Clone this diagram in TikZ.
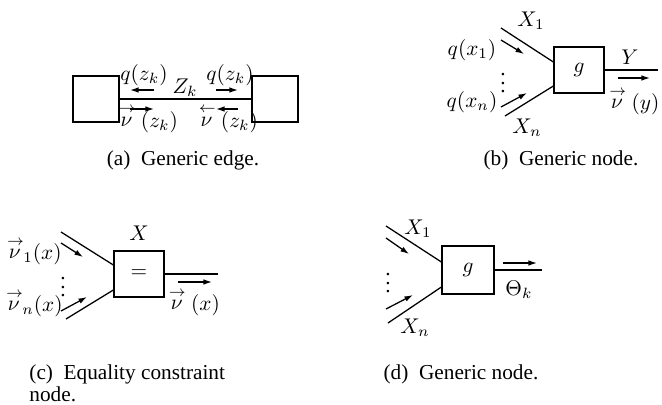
\documentclass[tikz,border=0pt]{standalone}
\usepackage[no-math]{fontspec}
\setmainfont{Liberation Serif}
\usetikzlibrary{arrows.meta,calc}
\newcommand{\arrnu}{\mathop{\nu}\limits^{\rightarrow}}
\newcommand{\larrnu}{\mathop{\nu}\limits^{\leftarrow}}
\newcommand{\rnu}{\mathrel{\arrnu}}
\newcommand{\lnu}{\mathrel{\larrnu}}
\begin{document}
\begin{tikzpicture}[x=0.47pt,y=-0.47pt,
  ln/.style={line width=0.6pt},
  msg/.style={line width=0.6pt,-{Latex[length=4pt,width=2.6pt]}},
  blk/.style={draw,line width=0.6pt,inner sep=0pt},
  lbl/.style={inner sep=0pt},
  captxt/.style={inner sep=0pt,font=\fontsize{10}{12}\selectfont}]
\useasboundingbox (0,0) rectangle (662,405);

% ---------- (a) generic edge
\node[blk,minimum width=21.6pt,minimum height=21.6pt] (la) at (96,99) {};
\node[blk,minimum width=21.6pt,minimum height=21.6pt] (ra) at (275,99) {};
\draw[ln] (la.east) -- (ra.west);
\node[lbl] (qa1) at (144,75) {$q(z_k)$};
\node[lbl] (za) at (185,88) {$Z_k$};
\node[lbl] (qa2) at (230,75) {$q(z_k)$};
\node[lbl,anchor=base] (na1) at (148,127) {$\rnu(z_k)$};
\node[lbl,anchor=base] (na2) at (228,127) {$\lnu(z_k)$};
\draw[msg] (154,90) -- (130,90);
\draw[msg] (216,90) -- (238,90);
\draw[msg] (130,109) -- (154,109);
\draw[msg] (238,109) -- (216,109);
\node[captxt,anchor=base] (capa) at (183,165) {(a)\enspace Generic edge.};

% ---------- (b) generic node
\node[blk,minimum width=23.5pt,minimum height=21.6pt] (gb) at (579,70) {$g$};
\coordinate (b1) at (501,28);
\coordinate (bn) at (505,116);
\coordinate (bo) at (658,70);
\draw[ln] (b1) -- ($(gb.west)+(0,-8)$);
\draw[ln] (bn) -- ($(gb.west)+(0,16)$);
\draw[ln] (gb.east) -- (bo);
\draw[msg] (501,40) -- (524,54);
\draw[msg] (501,107) -- (527,93);
\draw[msg] (618,78) -- (650,78);
\node[lbl] (bx1) at (531,21) {$X_1$};
\node[lbl] (bxn) at (527,128) {$X_n$};
\node[lbl] (bq1) at (472,50) {$q(x_1)$};
\node[lbl] (bqn) at (472,102) {$q(x_n)$};
\node[lbl] (bdots) at (503,77) {$\vdots$};
\node[lbl] (by) at (630,57) {$Y$};
\node[lbl] (bnu) at (634,101) {$\rnu(y)$};
\node[captxt,anchor=base] (capb) at (561,165) {(b)\enspace Generic node.};

% ---------- (c) equality constraint node
\node[blk,minimum width=23.5pt,minimum height=21.6pt] (ec) at (139,274) {$=$};
\coordinate (c1) at (61,232);
\coordinate (cn) at (66,319);
\coordinate (co) at (218,274);
\draw[ln] (c1) -- ($(ec.west)+(0,-9)$);
\draw[ln] (cn) -- ($(ec.west)+(0,16)$);
\draw[ln] (ec.east) -- (co);
\draw[msg] (61,243) -- (83,257);
\draw[msg] (61,311) -- (87,297);
\draw[msg] (178,282) -- (212,282);
\node[lbl] (cx) at (139,233) {$X$};
\node[lbl] (cnu1) at (34,251) {${\arrnu}_1(x)$};
\node[lbl] (cnun) at (34,303) {${\arrnu}_n(x)$};
\node[lbl] (cdots) at (63,281) {$\vdots$};
\node[lbl] (cnu) at (194,302) {$\rnu(x)$};
\node[captxt,anchor=base west] (capc1) at (29,379) {(c)\enspace Equality constraint};
\node[captxt,anchor=base west] (capc2) at (29,401) {node.};

% ---------- (d) generic node
\node[blk,minimum width=24.4pt,minimum height=22.6pt] (gd) at (468,270) {$g$};
\coordinate (d1) at (386,226);
\coordinate (dn) at (388,323);
\coordinate (do) at (542,270);
\draw[ln] (d1) -- ($(gd.west)+(0,-8)$);
\draw[ln] (dn) -- ($(gd.west)+(0,17)$);
\draw[ln] (gd.east) -- (do);
\draw[msg] (386,238) -- (409,254);
\draw[msg] (386,309) -- (413,295);
\draw[msg] (503,263) -- (537,263);
\node[lbl] (dx1) at (418,229) {$X_1$};
\node[lbl] (dxn) at (415,328) {$X_n$};
\node[lbl] (dth) at (519,290) {$\Theta_k$};
\node[lbl] (ddots) at (388,277) {$\vdots$};
\node[captxt,anchor=base] (capd) at (461,379) {(d)\enspace Generic node.};
\end{tikzpicture}
\end{document}
